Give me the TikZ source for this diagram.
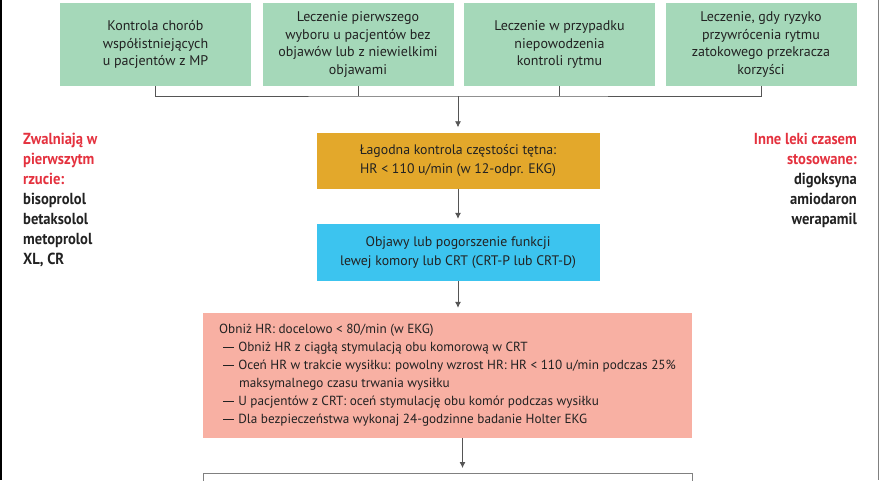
\documentclass[tikz,border=0pt]{standalone}
\usepackage{fontspec}
\setmainfont{PT Sans}
\newfontfamily\narrowfont[FakeStretch=0.91]{PT Sans}
\usetikzlibrary{positioning,arrows.meta}
\definecolor{boxgreen}{RGB}{165,216,185}
\definecolor{boxorange}{RGB}{227,168,43}
\definecolor{boxblue}{RGB}{60,196,239}
\definecolor{boxpink}{RGB}{248,176,163}
\definecolor{linegray}{RGB}{85,85,85}
\definecolor{labred}{RGB}{228,50,63}
\definecolor{textdark}{RGB}{34,34,34}
\tikzset{
  greenbox/.style={fill=boxgreen,minimum width=191pt,minimum height=83pt,inner sep=0pt,
    align=center,text=textdark,font=\fontsize{14}{17.5}\selectfont},
  midbox/.style={minimum width=283pt,minimum height=56pt,inner sep=0pt,
    align=center,text=textdark,font=\fontsize{13.8}{18.5}\selectfont},
  stepsbox/.style={fill=boxpink,minimum width=489pt,minimum height=125pt,inner sep=0pt,
    align=left,text=textdark,font=\fontsize{13.2}{18}\selectfont},
  link/.style={draw=linegray,line width=0.8pt},
  arr/.style={link,-{Latex[length=6pt,width=6pt]},shorten >=5pt},
  druglist/.style={inner sep=0pt,font=\narrowfont\bfseries\fontsize{16}{20}\selectfont,text=textdark},
}
\newcommand{\ldash}{\hspace*{4pt}\rule[0.27em]{0.85em}{0.07em}\hspace{0.3em}}

\begin{document}
\begin{tikzpicture}[x=1pt,y=-1pt]
    \clip (0,0) rectangle (880,480);
    \draw[black,line width=1.5pt] (0.75,0) -- (0.75,480);
    \draw[gray,line width=0.8pt] (878,0) -- (878,480);
    % top row
    \node[greenbox] (g1) at (155.5,44.5) {Kontrola chorób\\współistniejących\\u pacjentów z MP};
    \node[greenbox] (g2) at (358,44.5) {Leczenie pierwszego\\wyboru u pacjentów bez\\objawów lub z niewielkimi\\objawami};
    \node[greenbox] (g3) at (559.5,44.5) {Leczenie w przypadku\\niepowodzenia\\kontroli rytmu};
    \node[greenbox] (g4) at (761,44.5) {Leczenie, gdy ryzyko\\przywrócenia rytmu\\zatokowego przekracza\\korzyści};
    \coordinate (bar) at (458,96);
    % middle column
    \node[midbox,fill=boxorange] (rate) at (458,160.5) {Łagodna kontrola częstości tętna:\\HR < 110 u/min (w 12-odpr. EKG)};
    \node[midbox,fill=boxblue,minimum height=57pt] (lv) at (458,252.5) {Objawy lub pogorszenie funkcji\\lewej komory lub CRT (CRT-P lub CRT-D)};
    \node[stepsbox] (hr) at (447.5,375.5) {Obniż HR: docelowo < 80/min (w EKG)\\
      \ldash Obniż HR z ciągłą stymulacją obu komorową w CRT\\
      \ldash Oceń HR w trakcie wysiłku: powolny wzrost HR: HR < 110 u/min podczas 25\%\\
      \hspace*{20pt}maksymalnego czasu trwania wysiłku\\
      \ldash U pacjentów z CRT: oceń stymulację obu komór podczas wysiłku\\
      \ldash Dla bezpieczeństwa wykonaj 24-godzinne badanie Holter EKG};
    \node[draw=gray,line width=0.8pt,minimum width=489pt,minimum height=40pt,anchor=north] (next) at (447.5,473) {};
    % side lists
    \node[druglist,anchor=north west,align=left] (slow) at (23,133)
      {\textcolor{labred}{Zwalniają w}\\\textcolor{labred}{pierwszytm}\\\textcolor{labred}{rzucie:}\\bisoprolol\\betaksolol\\metoprolol\\XL, CR};
    \node[druglist,anchor=north east,align=right] (other) at (857,133)
      {\textcolor{labred}{Inne leki czasem}\\\textcolor{labred}{stosowane:}\\digoksyna\\amiodaron\\werapamil};
    % connectors
    \draw[link] (g1.south) |- (bar) -| (g4.south);
    \draw[link] (g2.south) -- (g2.south |- bar);
    \draw[link] (g3.south) -- (g3.south |- bar);
    \draw[arr] (bar) -- (rate.north);
    \draw[arr] (rate.south) -- (lv.north);
    \draw[arr] (lv.south) -- (lv.south |- hr.north);
    \draw[arr] ([xshift=15pt]hr.south) -- ([xshift=15pt]next.north);
\end{tikzpicture}
\end{document}
